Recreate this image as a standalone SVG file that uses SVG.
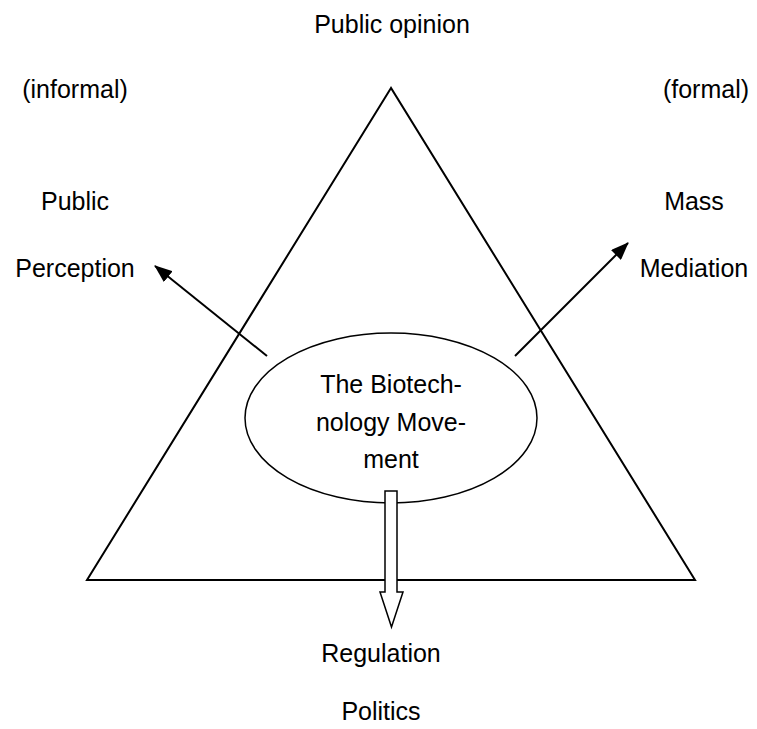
<svg xmlns="http://www.w3.org/2000/svg" width="757" height="729" viewBox="0 0 757 729">
<style>
text{font-family:"Liberation Sans",Arial,sans-serif;font-size:25px;fill:#000;text-anchor:middle}
.ln{stroke:#000;stroke-width:2;fill:none}
.sh{stroke:#000;stroke-width:1.5;fill:#fff}
</style>
<defs>
<marker id="ah" markerUnits="userSpaceOnUse" markerWidth="18" markerHeight="14" refX="17" refY="7" orient="auto">
<path d="M0,0 L18,7 L0,14 Z" fill="#000"/>
</marker>
</defs>
<rect width="757" height="729" fill="#fff"/>
<g id="triangle"><polygon class="ln" points="391,88 87,580 695,580"/></g>
<g id="movement">
<ellipse class="sh" cx="391" cy="418" rx="146" ry="85"/>
<text x="391" y="393">The Biotech-</text>
<text x="391" y="431">nology Move-</text>
<text x="391" y="468">ment</text>
</g>
<g id="connectors">
<line class="ln" x1="267" y1="356" x2="155" y2="266" marker-end="url(#ah)"/>
<line class="ln" x1="515" y1="356" x2="628" y2="243" marker-end="url(#ah)"/>
<polygon class="sh" points="385,491 397,491 397,592 403,592 391.5,627 380,592 385,592"/>
</g>
<g id="public-opinion"><text x="392" y="33">Public opinion</text></g>
<g id="informal"><text x="75" y="98">(informal)</text></g>
<g id="formal"><text x="706" y="98">(formal)</text></g>
<g id="public-perception">
<text x="75" y="210">Public</text>
<text x="75" y="277">Perception</text>
</g>
<g id="mass-mediation">
<text x="694" y="210">Mass</text>
<text x="694" y="277">Mediation</text>
</g>
<g id="regulation-politics">
<text x="381" y="662">Regulation</text>
<text x="381" y="720">Politics</text>
</g>
</svg>
